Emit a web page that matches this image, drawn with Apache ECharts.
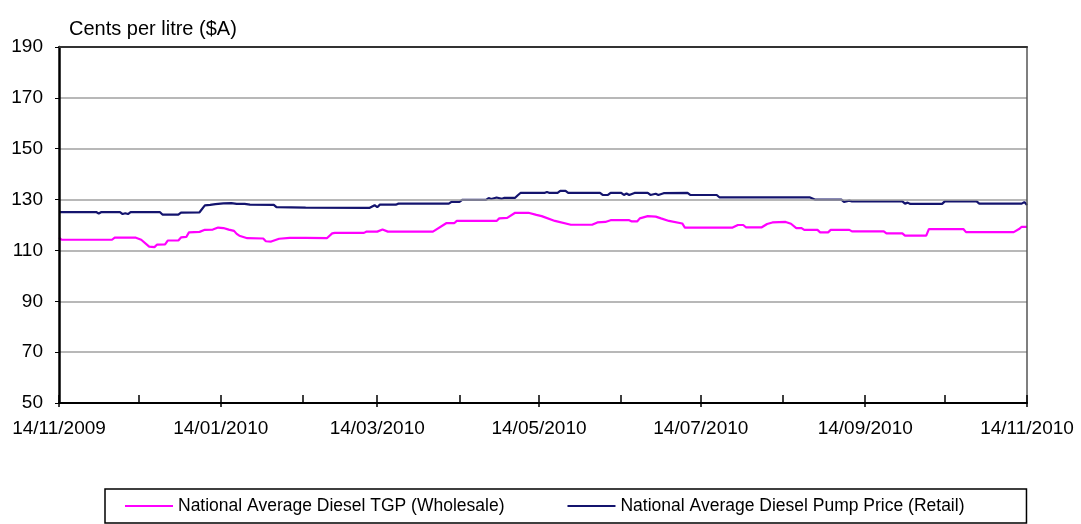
<!DOCTYPE html>
<html>
<head>
<meta charset="utf-8">
<title>National Average Diesel Prices</title>
<script src="https://cdn.jsdelivr.net/npm/echarts@6/dist/echarts.min.js"></script>
<style>
  html, body { margin: 0; padding: 0; background: #ffffff; }
  #chart { width: 1081px; height: 524px; }
</style>
</head>
<body>
<div id="chart"></div>
<script>
// Wholesale terminal gate price (TGP), cents per litre
const tgpDates = [
  '2009-11-14','2009-11-15','2009-12-04','2009-12-05','2009-12-13','2009-12-15','2009-12-18','2009-12-20',
  '2009-12-21','2009-12-24','2009-12-25','2009-12-29','2009-12-30','2010-01-01','2010-01-02','2010-01-06',
  '2010-01-08','2010-01-11','2010-01-13','2010-01-15','2010-01-17','2010-01-19','2010-01-20','2010-01-21',
  '2010-01-24','2010-01-30','2010-01-31','2010-02-02','2010-02-05','2010-02-09','2010-02-15','2010-02-23',
  '2010-02-25','2010-02-26','2010-03-09','2010-03-10','2010-03-14','2010-03-16','2010-03-18','2010-04-04',
  '2010-04-09','2010-04-12','2010-04-13','2010-04-28','2010-04-29','2010-05-02','2010-05-05','2010-05-10',
  '2010-05-13','2010-05-15','2010-05-20','2010-05-26','2010-06-03','2010-06-05','2010-06-08','2010-06-10',
  '2010-06-17','2010-06-18','2010-06-20','2010-06-21','2010-06-24','2010-06-27','2010-06-29','2010-07-02',
  '2010-07-07','2010-07-08','2010-07-26','2010-07-28','2010-07-30','2010-07-31','2010-08-06','2010-08-08',
  '2010-08-10','2010-08-15','2010-08-17','2010-08-19','2010-08-21','2010-08-22','2010-08-27','2010-08-28',
  '2010-08-31','2010-09-01','2010-09-08','2010-09-09','2010-09-21','2010-09-22','2010-09-28','2010-09-29',
  '2010-10-07','2010-10-08','2010-10-21','2010-10-22','2010-11-09','2010-11-11','2010-11-12','2010-11-14'
];
const tgpValues = [
  115.1,114.2,114.2,115.0,115.0,114.2,111.5,111.3,
  112.3,112.4,113.9,113.9,115.1,115.3,117.1,117.3,
  118.1,118.2,119.0,118.8,118.2,117.7,116.5,115.8,
  114.8,114.7,113.6,113.5,114.6,114.9,114.9,114.8,
  116.7,116.9,116.9,117.4,117.4,118.2,117.4,117.4,
  120.7,120.7,121.6,121.6,122.6,122.8,124.8,124.8,
  124.0,123.5,121.6,120.1,120.1,121.0,121.2,121.9,
  121.9,121.4,121.4,122.6,123.5,123.3,122.6,121.6,
  120.6,119.0,119.0,120.0,120.0,119.1,119.1,120.4,
  121.0,121.2,120.5,118.8,118.8,118.1,118.1,117.1,
  117.1,118.1,118.1,117.5,117.5,116.7,116.7,115.8,
  115.8,118.4,118.4,117.2,117.2,118.4,119.3,119.3
];

// Retail pump price, cents per litre
const retailDates = [
  '2009-11-14','2009-11-28','2009-11-29','2009-11-30','2009-12-07','2009-12-08','2009-12-09','2009-12-10',
  '2009-12-11','2009-12-22','2009-12-23','2009-12-29','2009-12-30','2010-01-06','2010-01-08','2010-01-10',
  '2010-01-12','2010-01-15','2010-01-18','2010-01-20','2010-01-23','2010-01-25','2010-02-03','2010-02-04',
  '2010-02-15','2010-03-11','2010-03-13','2010-03-14','2010-03-15','2010-03-21','2010-03-22','2010-04-10',
  '2010-04-11','2010-04-14','2010-04-15','2010-04-24','2010-04-25','2010-04-26','2010-04-28','2010-04-30',
  '2010-05-01','2010-05-05','2010-05-06','2010-05-07','2010-05-16','2010-05-17','2010-05-18','2010-05-21',
  '2010-05-22','2010-05-24','2010-05-25','2010-06-06','2010-06-07','2010-06-09','2010-06-10','2010-06-14',
  '2010-06-15','2010-06-16','2010-06-17','2010-06-19','2010-06-24','2010-06-25','2010-06-27','2010-06-28',
  '2010-06-30','2010-07-09','2010-07-10','2010-07-20','2010-07-21','2010-08-15','2010-08-24','2010-08-26',
  '2010-09-05','2010-09-06','2010-09-08','2010-09-09','2010-09-28','2010-09-29','2010-09-30','2010-10-01',
  '2010-10-13','2010-10-14','2010-10-26','2010-10-27','2010-11-12','2010-11-13','2010-11-14'
];
const retailValues = [
  125.1,125.1,124.5,125.1,125.1,124.3,124.6,124.3,
  125.1,125.1,124.1,124.1,124.9,125.0,127.7,127.9,
  128.2,128.5,128.6,128.3,128.3,128.0,127.9,127.0,
  126.8,126.7,127.8,127.0,128.0,128.0,128.4,128.4,
  129.1,129.1,129.9,129.9,130.6,130.2,130.8,130.3,
  130.7,130.7,131.7,132.6,132.6,133.0,132.6,132.6,
  133.4,133.4,132.6,132.6,131.8,131.8,132.6,132.6,
  131.8,132.4,131.8,132.6,132.6,131.8,132.3,131.8,
  132.5,132.6,131.8,131.8,130.9,130.9,130.9,130.0,
  130.0,129.1,129.6,129.3,129.3,128.4,128.8,128.3,
  128.3,129.3,129.3,128.4,128.4,129.0,127.9
];

// Axis ticks: every month, labelled every second month
const monthTicks = [
  '2009-11-14','2009-12-14','2010-01-14','2010-02-14','2010-03-14','2010-04-14','2010-05-14',
  '2010-06-14','2010-07-14','2010-08-14','2010-09-14','2010-10-14','2010-11-14'
];
const labelTicks = [
  '2009-11-14','2010-01-14','2010-03-14','2010-05-14','2010-07-14','2010-09-14','2010-11-14'
];
const yTicks = [50, 70, 90, 110, 130, 150, 170, 190];

const seriesNames = [
  'National Average Diesel TGP (Wholesale)',
  'National Average Diesel Pump Price (Retail)'
];

// Dates are plotted on a linear axis measured in days from the first date
const parseDay = s => {
  const p = s.split('-').map(Number);
  return Date.UTC(p[0], p[1] - 1, p[2]) / 86400000;
};
const DAY0 = parseDay(monthTicks[0]);
const toX = s => parseDay(s) - DAY0;
const pad = n => (n < 10 ? '0' : '') + n;
const fmtDay = v => {
  const d = new Date((Math.round(v) + DAY0) * 86400000);
  return pad(d.getUTCDate()) + '/' + pad(d.getUTCMonth() + 1) + '/' + d.getUTCFullYear();
};
const zip = (xs, ys) => xs.map((x, i) => [toX(x), ys[i]]);

const X_MIN = toX(monthTicks[0]);
const X_MAX = toX(monthTicks[monthTicks.length - 1]);
const monthX = monthTicks.map(toX);
const labelX = labelTicks.map(toX);

const FONT = '"Liberation Sans", Arial, sans-serif';

const chart = echarts.init(document.getElementById('chart'), null, { renderer: 'canvas' });

const baseX = {
  type: 'value',
  min: X_MIN,
  max: X_MAX,
  splitLine: { show: false }
};

chart.setOption({
  animation: false,
  backgroundColor: '#ffffff',
  textStyle: { fontFamily: FONT, color: '#000' },
  title: {
    text: 'Cents per litre ($A)',
    left: 64,
    top: 14,
    textStyle: { fontFamily: FONT, fontSize: 20, fontWeight: 'normal', color: '#000' }
  },
  grid: { left: 59, right: 54, top: 47, bottom: 121 },
  legend: {
    data: seriesNames,
    left: 105,
    top: 489,
    orient: 'horizontal',
    padding: [8, 62, 8, 20],
    itemGap: 63,
    itemWidth: 48,
    itemHeight: 2,
    icon: 'rect',
    borderColor: '#000',
    borderWidth: 1.5,
    textStyle: { fontFamily: FONT, fontSize: 17.5, color: '#000' }
  },
  xAxis: [
    Object.assign({}, baseX, {
      position: 'bottom',
      axisLine: { show: true, onZero: false, lineStyle: { color: '#000', width: 2 } },
      axisTick: { show: true, inside: false, length: 4, customValues: labelX, lineStyle: { color: '#000', width: 1.5 } },
      axisLabel: {
        customValues: labelX,
        formatter: v => fmtDay(v),
        fontFamily: FONT, fontSize: 19, color: '#000', margin: 16
      },
      z: 4
    }),
    Object.assign({}, baseX, {
      position: 'bottom',
      axisLine: { show: false, onZero: false },
      axisTick: { show: true, inside: true, length: 8, customValues: monthX, lineStyle: { color: '#000', width: 1.5 } },
      axisLabel: { show: false },
      z: 4
    }),
    Object.assign({}, baseX, {
      position: 'top',
      axisLine: { show: true, onZero: false, lineStyle: { color: '#333', width: 2 } },
      axisTick: { show: false },
      axisLabel: { show: false },
      z: 4
    })
  ],
  yAxis: [
    {
      type: 'value',
      min: yTicks[0],
      max: yTicks[yTicks.length - 1],
      interval: 20,
      position: 'left',
      axisLine: { show: true, onZero: false, lineStyle: { color: '#000', width: 2.5 } },
      axisTick: { show: true, inside: false, length: 4, lineStyle: { color: '#000', width: 1 } },
      axisLabel: { fontFamily: FONT, fontSize: 19, color: '#000', margin: 16 },
      splitLine: { show: true, lineStyle: { color: '#a0a0a0', width: 1.5 } },
      z: 4
    },
    {
      type: 'value',
      min: yTicks[0],
      max: yTicks[yTicks.length - 1],
      interval: 20,
      position: 'right',
      axisLine: { show: true, onZero: false, lineStyle: { color: '#555', width: 1.5 } },
      axisTick: { show: false },
      axisLabel: { show: false },
      splitLine: { show: false },
      z: 4
    }
  ],
  series: [
    {
      name: seriesNames[0],
      type: 'line',
      xAxisIndex: 0,
      yAxisIndex: 0,
      data: zip(tgpDates, tgpValues),
      showSymbol: false,
      symbol: 'none',
      lineStyle: { color: '#ff00ff', width: 2.2 },
      itemStyle: { color: '#ff00ff' },
      z: 3
    },
    {
      name: seriesNames[1],
      type: 'line',
      xAxisIndex: 0,
      yAxisIndex: 0,
      data: zip(retailDates, retailValues),
      showSymbol: false,
      symbol: 'none',
      lineStyle: { color: '#14146e', width: 2.2 },
      itemStyle: { color: '#14146e' },
      z: 3
    }
  ]
});
</script>
</body>
</html>
